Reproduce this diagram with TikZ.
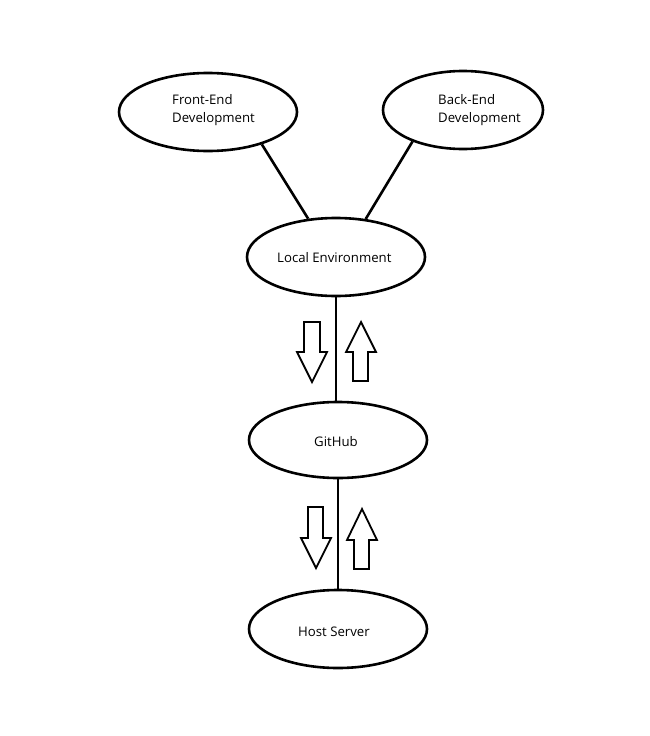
\documentclass[tikz,border=0pt]{standalone}
\usepackage{fontspec}
\setmainfont{Open Sans}
\usetikzlibrary{shapes.geometric}
\begin{document}
\begin{tikzpicture}[x=1pt,y=-1pt,
  oval/.style={ellipse,draw=black,line width=2.6pt,inner sep=0pt,minimum width=178pt,minimum height=78pt},
  txt/.style={inner sep=0pt,anchor=base west,font=\fontsize{13.2}{18.4}\selectfont,align=left},
  link/.style={line width=2.6pt},
  blockarrow/.style={draw=black,line width=1.8pt,fill=white,line join=miter}]
\useasboundingbox (0,0) rectangle (650,736);
\node[oval] (fe) at (208,112) {};
\node[oval,minimum width=160pt] (be) at (463,110) {};
\node[oval] (le) at (336,257) {};
\node[oval,minimum height=76pt] (gh) at (338,440) {};
\node[oval] (hs) at (338,629) {};
\node[txt] (fet) at (172,122.7) {Front-End\\Development};
\node[txt] (bet) at (438,122.7) {Back-End\\Development};
\node[txt] (let) at (277,262) {Local Environment};
\node[txt] (ght) at (314,446) {GitHub};
\node[txt] (hst) at (298,636) {Host Server};
\draw[link] (fe.-31) -- (le.126);
\draw[link] (be.212) -- (le.52);
\draw[link] (le.south) -- (le.south |- gh.north);
\draw[link] (gh.south) -- (gh.south |- hs.north);
% block arrows between Local Environment and GitHub
\draw[blockarrow] (304,322) -- (320,322) -- (320,352) -- (327,352) -- (312,382) -- (297,352) -- (304,352) -- cycle;
\draw[blockarrow] (353,381) -- (368,381) -- (368,352) -- (376,352) -- (361,322) -- (346,352) -- (353,352) -- cycle;
% block arrows between GitHub and Host Server
\draw[blockarrow] (308,507) -- (323,507) -- (323,538) -- (331,538) -- (316,568) -- (301,538) -- (308,538) -- cycle;
\draw[blockarrow] (354,569) -- (369,569) -- (369,540) -- (377,540) -- (362,509) -- (347,540) -- (354,540) -- cycle;
\end{tikzpicture}
\end{document}
